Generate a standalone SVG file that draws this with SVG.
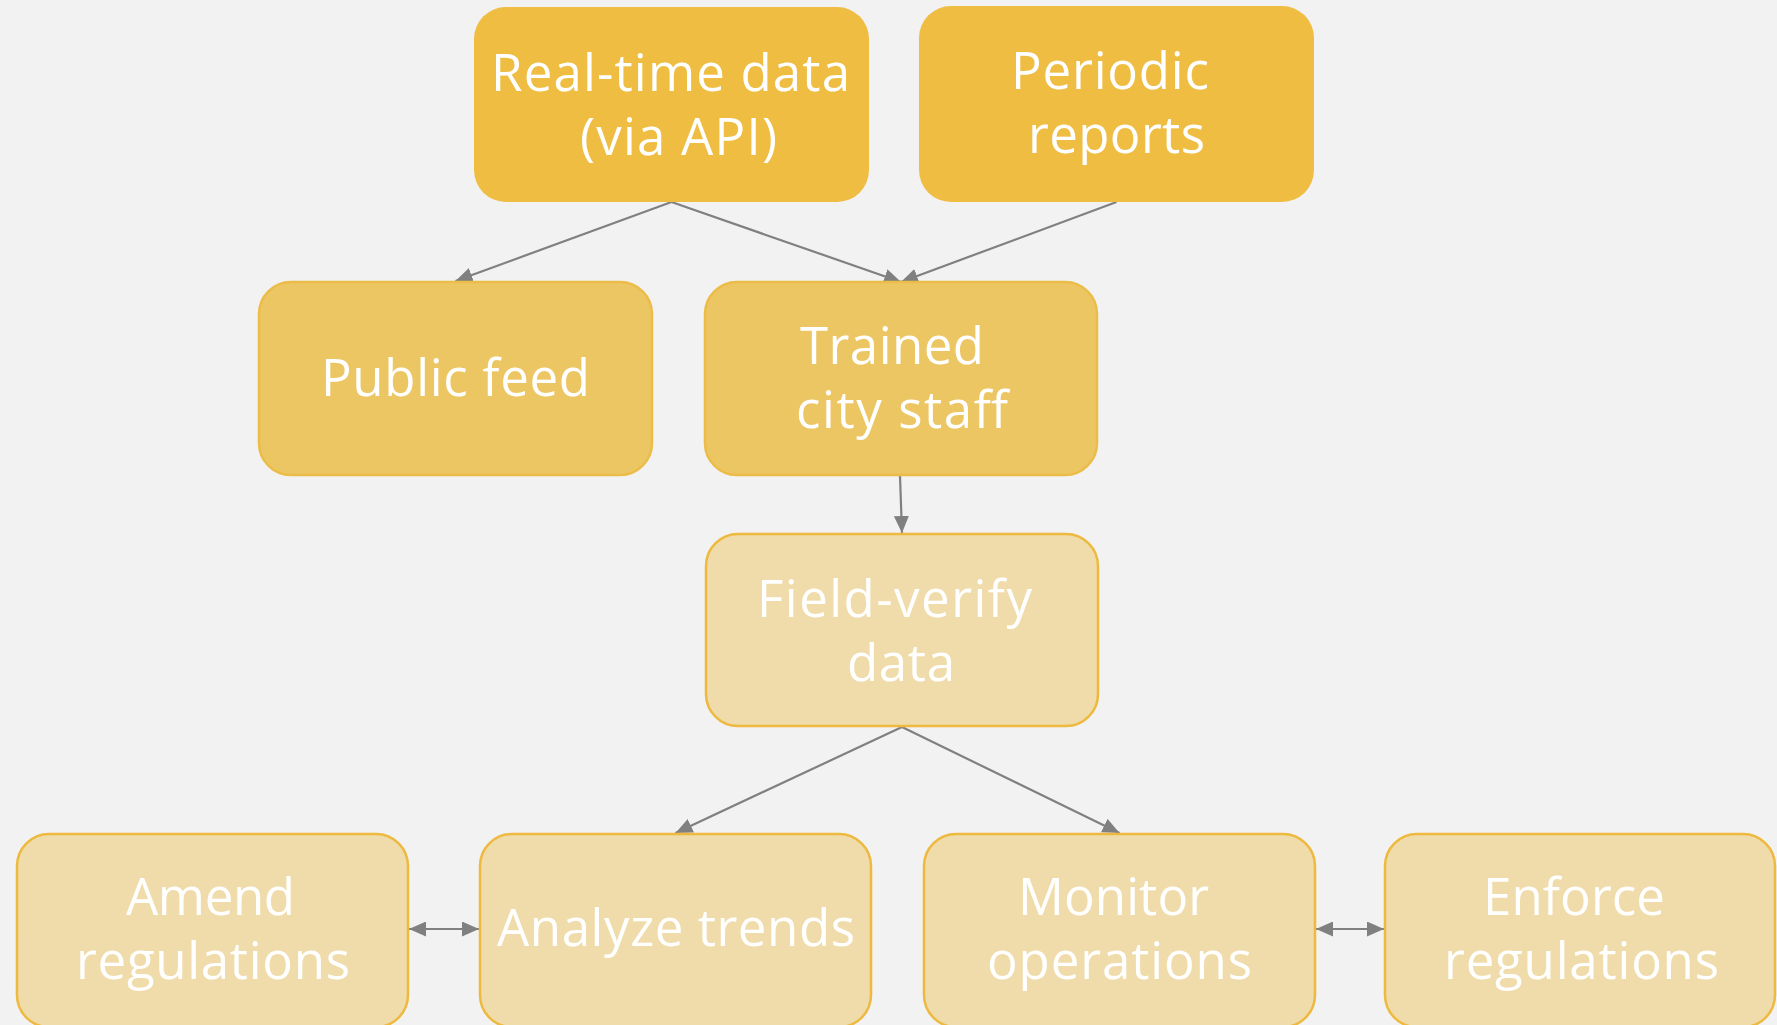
<svg xmlns="http://www.w3.org/2000/svg" width="1777" height="1025" viewBox="0 0 1777 1025">
  <defs>
    <style>
      .bg { fill: #f2f2f2; }
      .src rect { fill: #eebd42; }
      .mid rect { fill: #edc664; stroke: #ecbc48; stroke-width: 2.5; }
      .low rect { fill: #f0dcaa; stroke: #edb93f; stroke-width: 2.5; }
      .node text { fill: #ffffff; font-family: "Open Sans", "Noto Sans", "Liberation Sans", sans-serif; font-size: 51px; }
      .edge { stroke: #808080; stroke-width: 2.2; fill: none; }
    </style>
    <marker id="head" markerUnits="userSpaceOnUse" markerWidth="17" markerHeight="15" refX="17" refY="7.5" orient="auto-start-reverse" viewBox="0 0 17 15">
      <path d="M0,0 L17,7.5 L0,15 Z" fill="#808080"/>
    </marker>
  </defs>

  <rect class="bg" x="0" y="0" width="1777" height="1025"/>

  <!-- connectors -->
  <g id="connectors">
    <line class="edge" x1="671.5" y1="202" x2="455.5" y2="281" marker-end="url(#head)"/>
    <line class="edge" x1="671.5" y1="202" x2="901" y2="282" marker-end="url(#head)"/>
    <line class="edge" x1="1116.5" y1="202" x2="901" y2="282" marker-end="url(#head)"/>
    <line class="edge" x1="900" y1="476" x2="902" y2="533" marker-end="url(#head)"/>
    <line class="edge" x1="902" y1="727" x2="675.5" y2="833" marker-end="url(#head)"/>
    <line class="edge" x1="902" y1="727" x2="1119.5" y2="833" marker-end="url(#head)"/>
    <line class="edge" x1="409" y1="929" x2="479" y2="929" marker-start="url(#head)" marker-end="url(#head)"/>
    <line class="edge" x1="1316" y1="929" x2="1384" y2="929" marker-start="url(#head)" marker-end="url(#head)"/>
  </g>

  <!-- data sources -->
  <g id="realtime" class="node src">
    <rect x="474" y="7" width="395" height="195" rx="32"/>
    <text x="491" y="91" textLength="359" lengthAdjust="spacing">Real-time data</text>
    <text x="580" y="155" textLength="197" lengthAdjust="spacing">(via API)</text>
  </g>
  <g id="periodic" class="node src">
    <rect x="919" y="6" width="395" height="196" rx="32"/>
    <text x="1011" y="89" textLength="198" lengthAdjust="spacing">Periodic</text>
    <text x="1028" y="153" textLength="177" lengthAdjust="spacing">reports</text>
  </g>

  <!-- consumers -->
  <g id="publicfeed" class="node mid">
    <rect x="259" y="282" width="393" height="193" rx="32"/>
    <text x="321" y="396" textLength="269" lengthAdjust="spacing">Public feed</text>
  </g>
  <g id="staff" class="node mid">
    <rect x="705" y="282" width="392" height="193" rx="32"/>
    <text x="800" y="364" textLength="184" lengthAdjust="spacing">Trained</text>
    <text x="796" y="428" textLength="212" lengthAdjust="spacing">city staff</text>
  </g>

  <!-- verification -->
  <g id="verify" class="node low">
    <rect x="706" y="534" width="392" height="192" rx="32"/>
    <text x="757" y="617" textLength="275" lengthAdjust="spacing">Field-verify</text>
    <text x="847" y="681" textLength="108" lengthAdjust="spacing">data</text>
  </g>

  <!-- actions -->
  <g id="amend" class="node low">
    <rect x="17" y="834" width="391" height="193" rx="32"/>
    <text x="126" y="915" textLength="169" lengthAdjust="spacing">Amend</text>
    <text x="76" y="979" textLength="274" lengthAdjust="spacing">regulations</text>
  </g>
  <g id="analyze" class="node low">
    <rect x="480" y="834" width="391" height="193" rx="32"/>
    <text x="497" y="946" textLength="358" lengthAdjust="spacing">Analyze trends</text>
  </g>
  <g id="monitor" class="node low">
    <rect x="924" y="834" width="391" height="193" rx="32"/>
    <text x="1018" y="915" textLength="191" lengthAdjust="spacing">Monitor</text>
    <text x="987" y="979" textLength="265" lengthAdjust="spacing">operations</text>
  </g>
  <g id="enforce" class="node low">
    <rect x="1385" y="834" width="390" height="193" rx="32"/>
    <text x="1483" y="915" textLength="182" lengthAdjust="spacing">Enforce</text>
    <text x="1444" y="979" textLength="275" lengthAdjust="spacing">regulations</text>
  </g>
</svg>
